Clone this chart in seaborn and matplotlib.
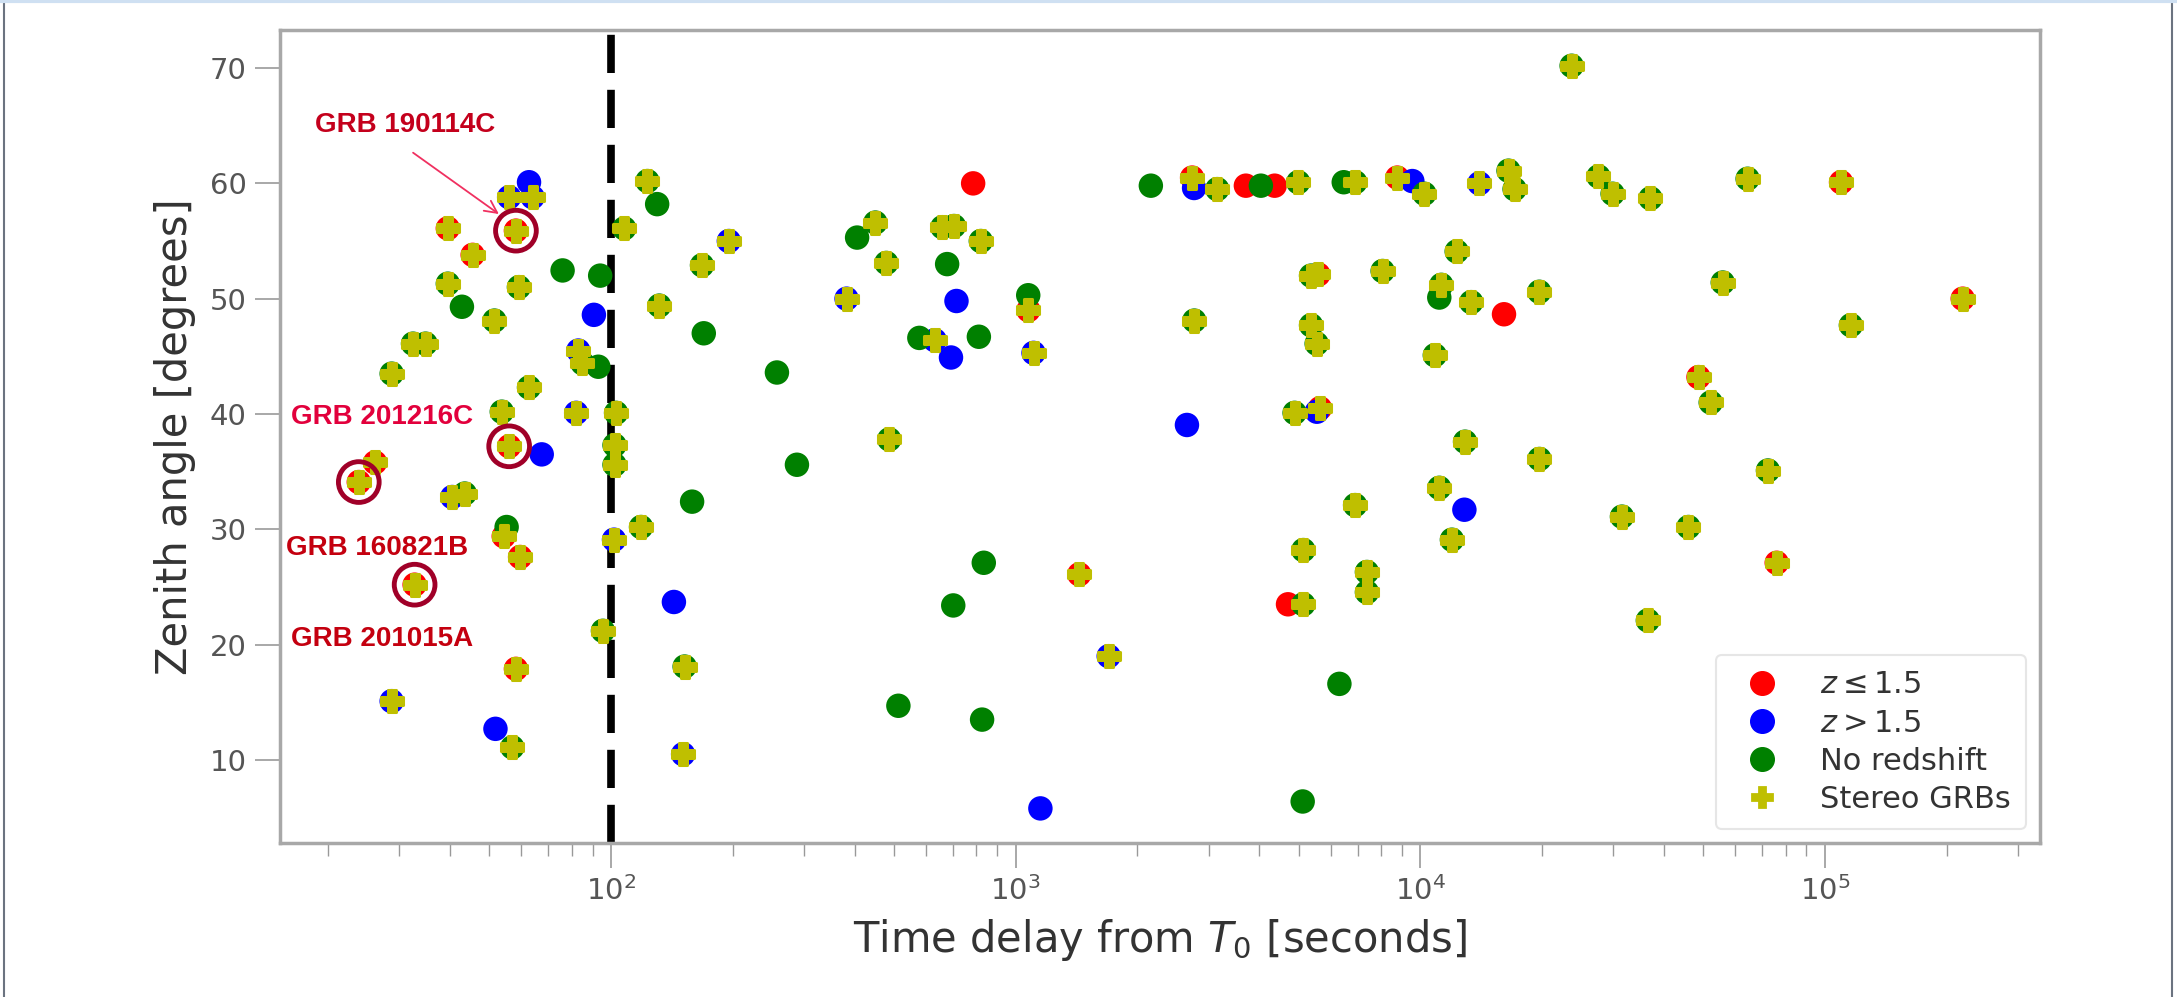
import numpy as np
import pandas as pd
import matplotlib
matplotlib.use("Agg")
import matplotlib.pyplot as plt
from matplotlib.lines import Line2D
import seaborn as sns

# ---- data: (time delay from T0 [s], zenith angle [deg]) ----
# z <= 1.5
red_t      = [58.2, 39.5, 45.5, 56, 26.1, 23.8, 54.3, 59.6, 32.7, 58.2, 1075, 1436, 2729, 8771,
              5600, 5650, 109600, 219000, 48700, 76000,
              785, 3706, 4365, 16100, 4710]
red_zen    = [55.9, 56.1, 53.8, 37.2, 35.8, 34.1, 29.4, 27.6, 25.2, 17.9, 49.0, 26.1, 60.5, 60.5,
              52.1, 40.5, 60.1, 50.0, 43.2, 27.1,
              60.0, 59.8, 59.8, 48.65, 23.5]
red_stereo = [1] * 20 + [0] * 5

# z > 1.5
blue_t      = [62.7, 90.7, 67.4, 51.8, 143, 714, 692, 1151, 2650, 9556, 12850, 2760, 5550,
               56, 64, 83, 82, 40.5, 28.7, 101.7, 150.7, 195.5, 382, 631, 1107, 1698, 13995]
blue_zen    = [60.1, 48.6, 36.5, 12.7, 23.7, 49.8, 44.9, 5.8, 39.05, 60.2, 31.7, 59.6, 40.2,
               58.8, 58.8, 45.5, 40.1, 32.8, 15.1, 29.1, 10.5, 55.0, 50.0, 46.4, 45.3, 19.0, 60.0]
blue_stereo = [0] * 13 + [1] * 14

# no redshift
green_t      = [75.9, 94, 42.8, 93, 55.2, 130, 169.5, 257, 405.6, 677, 578, 811, 1074, 158.6,
                288, 834, 701, 513, 826, 2158, 4036, 6468, 11140, 6310, 5120,
                39.5, 59.2, 51.5, 32.4, 34.8, 28.7, 85, 62.7, 53.7, 102.9, 102, 102, 43.5,
                118.6, 95.5, 57, 152, 123, 107.8, 167.8, 131.6, 450, 479, 659, 704, 820, 487,
                3149, 4992, 6905, 10235, 16520, 17100, 23660, 27560, 29870, 37050, 64400,
                5370, 8070, 12300, 11270, 13360, 19680, 55900, 115900, 52200, 2763, 5370,
                5544, 10860, 4890, 12900, 19700, 72300, 11140, 6900, 31500, 46000, 11970,
                5140, 7380, 7380, 5140, 36500]
green_zen    = [52.45, 52.0, 49.3, 44.1, 30.2, 58.2, 47.0, 43.6, 55.3, 53.0, 46.6, 46.7, 50.3, 32.4,
                35.6, 27.1, 23.4, 14.7, 13.5, 59.8, 59.8, 60.1, 50.1, 16.6, 6.4,
                51.3, 51.0, 48.1, 46.1, 46.1, 43.5, 44.4, 42.3, 40.2, 40.1, 37.3, 35.6, 33.1,
                30.2, 21.2, 11.1, 18.1, 60.2, 56.1, 52.9, 49.4, 56.6, 53.1, 56.2, 56.3, 55.0, 37.8,
                59.5, 60.1, 60.1, 59.1, 61.1, 59.5, 70.2, 60.6, 59.1, 58.7, 60.4,
                52.0, 52.4, 54.1, 51.2, 49.7, 50.6, 51.4, 47.7, 41.0, 48.1, 47.7,
                46.1, 45.1, 40.1, 37.6, 36.1, 35.1, 33.6, 32.1, 31.1, 30.2, 29.1,
                28.2, 26.3, 24.55, 23.5, 22.1]
green_stereo = [0] * 25 + [1] * 65

# highlighted bursts (circled) and their labels
hl_t   = [58.2, 56, 23.8, 32.7]
hl_zen = [55.9, 37.2, 34.1, 25.2]
grb_names  = ["GRB 190114C", "GRB 201216C", "GRB 160821B", "GRB 201015A"]
grb_text_t = [18.5, 16.2, 15.7, 16.2]
grb_text_z = [65.1, 39.7, 28.4, 20.5]
grb_colors = ["#c4001c", "#e2003c", "#c4000f", "#c4000f"]

df = pd.concat([
    pd.DataFrame({"t": red_t, "zen": red_zen, "stereo": red_stereo, "cls": r"$z \leq 1.5$"}),
    pd.DataFrame({"t": blue_t, "zen": blue_zen, "stereo": blue_stereo, "cls": r"$z > 1.5$"}),
    pd.DataFrame({"t": green_t, "zen": green_zen, "stereo": green_stereo, "cls": "No redshift"}),
], ignore_index=True)

sns.set_style("white")
plt.rcParams["font.family"] = ["DejaVu Sans"]

fig = plt.figure(figsize=(21.77, 9.97), dpi=100)
ax = fig.add_axes([280 / 2177, 1 - 843 / 997, 1760 / 2177, 813 / 997])

ax.axvline(100, color="black", ls=(0, (5, 2.2)), lw=5.5, zorder=1)

palette = {r"$z \leq 1.5$": "red", r"$z > 1.5$": "blue", "No redshift": "green"}
sns.scatterplot(data=df, x="t", y="zen", hue="cls", palette=palette, s=310,
                edgecolor="none", ax=ax, zorder=3, legend=False)
# stereo events: thick yellow plus on top of the colour dot
st = df[df["stereo"] == 1]
sns.scatterplot(data=st, x="t", y="zen", color="y", marker="P", s=250,
                edgecolor="y", linewidth=2.2, ax=ax, zorder=4, legend=False)

# circled bursts
ax.scatter(hl_t, hl_zen, s=860, facecolors="none", edgecolors="#a00028",
           linewidths=3.5, zorder=5)
for name, tx, tz, c in zip(grb_names, grb_text_t, grb_text_z, grb_colors):
    ax.text(tx, tz, name, color=c, fontsize=20, fontweight="bold",
            family=["Liberation Sans", "DejaVu Sans"], va="center", ha="left", zorder=6)
ax.annotate("", xy=(53.5, 57.2), xytext=(32, 62.8),
            arrowprops=dict(arrowstyle="->", color="#f03060", lw=1.3,
                            mutation_scale=22), zorder=6)

ax.set_xscale("log")
ax.set_xlim(15.2, 3.4e5)
ax.set_ylim(2.8, 73.3)
ax.set_yticks([10, 20, 30, 40, 50, 60, 70])

ax.set_xlabel(r"Time delay from $T_0$ [seconds]", fontsize=30, color="#333333", labelpad=8)
ax.set_ylabel("Zenith angle [degrees]", fontsize=30, color="#333333", labelpad=10)

for sp in ax.spines.values():
    sp.set_color("#a8a8a8")
    sp.set_linewidth(2.5)
ax.tick_params(axis="both", which="major", direction="out", length=18, width=1.2,
               color="#999999", labelsize=21, labelcolor="#555555", pad=6)
ax.tick_params(axis="x", which="minor", direction="out", length=9, width=1.0,
               color="#999999")
ax.tick_params(bottom=True, left=True, which="both")
ax.tick_params(axis="y", which="minor", left=False)

handles = [
    Line2D([], [], ls="none", marker="o", color="red", markersize=17, label=r"$z \leq 1.5$"),
    Line2D([], [], ls="none", marker="o", color="blue", markersize=17, label=r"$z > 1.5$"),
    Line2D([], [], ls="none", marker="o", color="green", markersize=17, label="No redshift"),
    Line2D([], [], ls="none", marker="P", color="y", markersize=15, markeredgewidth=2.0,
           label="Stereo GRBs"),
]
leg = ax.legend(handles=handles, loc="lower right", fontsize=22, frameon=True,
                labelspacing=0.3, handletextpad=0.9, borderpad=0.5,
                borderaxespad=0.45, fancybox=True)
leg.get_frame().set_edgecolor("#e0e0e0")
leg.get_frame().set_linewidth(1.5)
for t in leg.get_texts():
    t.set_color("#333333")

# screenshot frame
fig.add_artist(Line2D([3.5 / 2177, 3.5 / 2177], [0, 1], color="#6b7380", lw=1.5))
fig.add_artist(Line2D([2172 / 2177, 2172 / 2177], [0, 1], color="#6b7380", lw=1.5))
fig.add_artist(Line2D([0, 1], [0.999, 0.999], color="#cfe0f2", lw=3))

fig.savefig("out.png", dpi=100)
